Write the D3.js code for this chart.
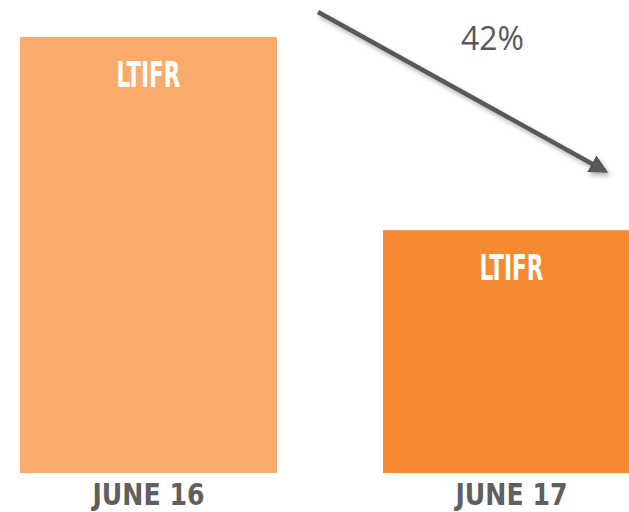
<!DOCTYPE html>
<html>
<head>
<meta charset="utf-8">
<script src="https://cdn.jsdelivr.net/npm/d3@7"></script>
<style>
  html, body { margin: 0; padding: 0; background: #fff; }
</style>
</head>
<body>
<div id="chart"></div>
<script>
const categories = ['JUNE 16', 'JUNE 17'];
const values = [100, 55.7];
const barLabels = ['LTIFR', 'LTIFR'];
const colors = ['#F9AB6C', '#F68A33'];
const changeLabel = '42%';

const width = 629, height = 512;
const svg = d3.select('#chart').append('svg')
  .attr('width', width)
  .attr('height', height);

const x = d3.scaleBand()
  .domain(categories)
  .range([20, 640])
  .paddingInner(0.292)
  .paddingOuter(0);

const y = d3.scaleLinear()
  .domain([0, 100])
  .range([473, 37]);

const labelFont = '"Liberation Sans Narrow", "DejaVu Sans Condensed", sans-serif';

// bars
svg.append('g').selectAll('rect')
  .data(categories)
  .join('rect')
  .attr('x', d => x(d))
  .attr('y', (d, i) => y(values[i]))
  .attr('width', x.bandwidth())
  .attr('height', (d, i) => y(0) - y(values[i]))
  .attr('fill', (d, i) => colors[i]);

// labels inside bars
svg.append('g').selectAll('text')
  .data(categories)
  .join('text')
  .attr('x', d => x(d) + x.bandwidth() / 2)
  .attr('y', (d, i) => y(values[i]) + 50)
  .attr('text-anchor', 'middle')
  .attr('font-family', labelFont)
  .attr('font-weight', 'bold')
  .attr('font-size', 36)
  .attr('textLength', 64)
  .attr('lengthAdjust', 'spacingAndGlyphs')
  .attr('fill', '#fff')
  .text((d, i) => barLabels[i]);

// category labels
svg.append('g').selectAll('text')
  .data(categories)
  .join('text')
  .attr('x', d => x(d) + x.bandwidth() / 2)
  .attr('y', y(0) + 32)
  .attr('text-anchor', 'middle')
  .attr('font-family', labelFont)
  .attr('font-weight', 'bold')
  .attr('font-size', 31)
  .attr('textLength', 112)
  .attr('lengthAdjust', 'spacingAndGlyphs')
  .attr('fill', '#5f5f5f')
  .text(d => d);

// arrow showing the drop
const defs = svg.append('defs');
const shadow = defs.append('filter').attr('id', 'shadow')
  .attr('x', '-20%').attr('y', '-20%').attr('width', '140%').attr('height', '140%');
shadow.append('feDropShadow')
  .attr('dx', 2).attr('dy', 3).attr('stdDeviation', 2)
  .attr('flood-color', '#000').attr('flood-opacity', 0.3);

defs.append('marker')
  .attr('id', 'head')
  .attr('viewBox', '0 0 10 10')
  .attr('refX', 8).attr('refY', 5)
  .attr('markerWidth', 4.2).attr('markerHeight', 4.2)
  .attr('orient', 'auto')
  .append('path')
  .attr('d', 'M0,0 L10,5 L0,10 Z')
  .attr('fill', '#595959');

const x1 = x(categories[0]) + x.bandwidth() + 41;
const x2 = x(categories[1]) + 222;
svg.append('line')
  .attr('x1', x1).attr('y1', 12)
  .attr('x2', x2).attr('y2', 171)
  .attr('stroke', '#595959')
  .attr('stroke-width', 4.5)
  .attr('marker-end', 'url(#head)')
  .attr('filter', 'url(#shadow)');

svg.append('text')
  .attr('x', (x1 + x2) / 2 + 31)
  .attr('y', 50)
  .attr('text-anchor', 'middle')
  .attr('font-family', '"Open Sans", sans-serif')
  .attr('font-size', 32)
  .attr('fill', '#595959')
  .text(changeLabel);
</script>
</body>
</html>
